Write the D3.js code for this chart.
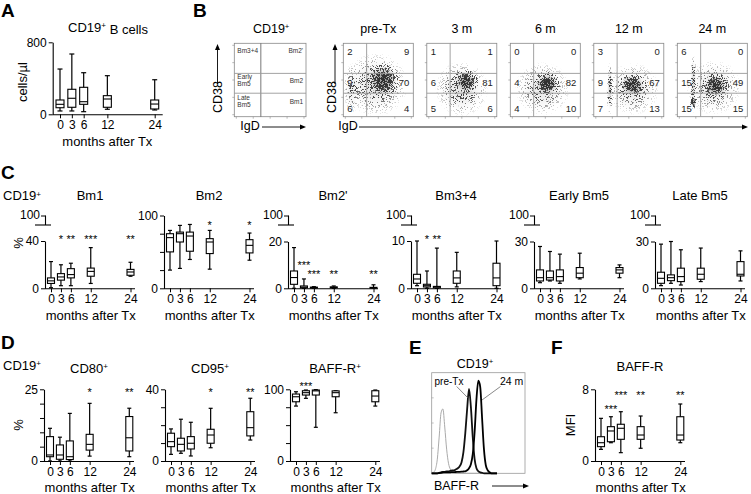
<!DOCTYPE html>
<html><head><meta charset="utf-8">
<script src="https://cdn.jsdelivr.net/npm/d3@7"></script>
<style>
body{margin:0;background:#fff}
svg{display:block}
text{font-family:"Liberation Sans",Arial,Helvetica,sans-serif;fill:#000}
</style>
</head><body>
<script>
// ---------------- DATA ----------------
const months = [0, 3, 6, 12, 24];
const monthLabels = ["0", "3", "6", "12", "24"];
// box stats per time point: [whisker low, Q1, median, Q3, whisker high]
const cd19Counts = [[37,73,111,159,503],[37,78,178,278,670],[29,111,140,300,462],[56,78,170,207,429],[48,59,114,159,384]];
const bm1 = [[0.5,4.1,6.3,8.8,22.6],[2.2,6.9,9.6,12.4,19.9],[2.2,8.8,11.6,16.6,21.2],[4.1,10.2,14.3,17.1,34.4],[10.2,11,13.8,16,22]];
const bm2 = [[25,50,69.6,75,79.5],[27.3,63.6,75,77.2,86.4],[39.6,50.9,71.8,77.2,87.7],[26.3,47.7,63.6,68.2,79.5],[38.6,48.6,59,66.8,75.9]];
const bm2p = [[0,1.7,4.6,7.4,17.4],[0,0.2,0.5,1.0,4.0],[0,0.1,0.3,0.5,0.7],[0,0.2,0.4,0.6,1.0],[0,0.1,0.2,0.4,1.5]];
const bm34 = [[0.55,1.06,1.97,2.96,10],[0,0.28,0.55,0.85,3.66],[0,0.1,0.3,0.4,8.5],[0.3,1.06,2.2,3.66,7.6],[0,0.55,2.2,5.3,10]];
const earlyBm5 = [[3.6,4.7,6.8,11.8,26.8],[4.7,5.3,6.8,11.1,23.6],[3.2,4.7,7.5,11.8,21.9],[6.0,6.8,9.7,13.3,22.5],[6.8,9.7,11.8,13.3,15]];
const lateBm5 = [[1.7,3.2,6.4,10.3,28.3],[3.2,4.9,6.8,8.6,30],[2.1,4.3,7.5,12.9,24.7],[4.3,5.8,9.0,12.9,25.8],[4.7,7.9,9.0,17.1,24]];
const cd80 = [[0,1.5,2.1,8.5,11.4],[0,0.6,2.1,5.6,8.3],[0,0.5,1.5,7.0,16.6],[1.7,3.8,5.8,9.3,20.1],[1.5,3.5,8.1,15.5,18.4]];
const cd95 = [[3.7,8,10.8,15.5,17.9],[4.3,5.6,9.3,12.7,23.3],[2.8,6.7,9.9,13.6,21.6],[7.4,9.9,14.5,17.7,29.4],[11.7,14,18.6,27.5,35]];
const baffrPos = [[76.6,82.6,89.6,93.4,96.6],[87.4,92,95.3,98,99],[47,92,97.8,99,99.5],[67.3,89.6,95.3,97.8,98],[76.6,82.6,90.6,98,99]];
const baffrMfi = [[1.3,1.6,2.04,2.71,4.76],[2.04,2.15,3.35,3.83,4.94],[0.93,2.42,3.65,4.1,5.5],[1.42,2.42,2.9,3.83,5.02],[2.04,2.34,2.9,4.94,6.36]];

// significance marks: [month, label]
const starsBm1 = [[3,"*"],[6,"**"],[12,"***"],[24,"**"]];
const starsBm2 = [[12,"*"],[24,"*"]];
const starsBm2p = [[3,"***"],[6,"***"],[12,"**"],[24,"**"]];
const starsBm34 = [[3,"*"],[6,"**"]];
const starsCd80 = [[12,"*"],[24,"**"]];
const starsCd95 = [[12,"*"],[24,"**"]];
const starsBaffrPos = [[3,"***"]];
const starsMfi = [[3,"***"],[6,"***"],[12,"**"],[24,"**"]];

// flow cytometry quadrants: [top-left, top-right, mid-left, mid-right, bottom-left, bottom-right]
const flowTitles = ["pre-Tx","3 m","6 m","12 m","24 m"];
const flowQuadrants = [[2,9,9,70,6,4],[1,1,6,81,5,6],[0,0,4,82,4,10],[3,0,9,67,7,13],[6,0,15,49,15,15]];
// density clouds: [cx, cy, rx, ry, peak] as fractions of the plot frame
const flowClouds = [
  [[0.57,0.50,0.24,0.24,1.0],[0.47,0.56,0.46,0.44,0.30],[0.12,0.62,0.12,0.36,0.18]],
  [[0.56,0.52,0.18,0.17,1.0],[0.50,0.62,0.38,0.38,0.30]],
  [[0.53,0.55,0.19,0.17,1.0],[0.46,0.62,0.40,0.37,0.26]],
  [[0.55,0.57,0.20,0.17,1.0],[0.56,0.62,0.38,0.36,0.26],[0.23,0.62,0.05,0.36,0.45]],
  [[0.55,0.58,0.19,0.17,1.0],[0.52,0.60,0.40,0.38,0.26],[0.23,0.55,0.05,0.40,0.42],[0.23,0.80,0.06,0.09,0.8]]
];
const gateLabels = [["Bm3+4"],["Bm2'"],["Early","Bm5"],["Bm2"],["Late","Bm5"],["Bm1"]];

// histogram (panel E): channel (0-100) and % of max height
const histCh = [0,2,4,6,8,10,12,14,16,18,20,22,24,26,28,30,32,34,36,38,40,42,44,46,48,50,52,54,56,58,60,62,64,66,68,70];
const histIso = [0,1,4,14,36,60,64,46,24,10,4,1.5,0.5,0,0,0,0,0,0,0,0,0,0,0,0,0,0,0,0,0,0,0,0,0,0,0];
const histPre = [0,0,0,0,0.5,1,1.5,1.5,2,2,2.5,3,3,4,5,7,11,21,40,64,84,66,36,14,5,2,1,0.5,0,0,0,0,0,0,0,0];
const hist24 = [0,0,0,0,0.3,0.5,0.8,1,1,1,1,1.2,1.2,1.3,1.5,1.5,1.6,1.8,2,3,5,9,19,41,74,92,86,55,24,8,3,1,0,0,0,0];

// ---------------- DRAWING ----------------
const W = 751, H = 494;
const svg = d3.select("body").append("svg").attr("width", W).attr("height", H);
const FONT = '"Liberation Sans",Arial,Helvetica,sans-serif';
const defs = svg.append("defs");

function label(x, y, txt, opt = {}) {
  const t = svg.append("text").attr("x", x).attr("y", y).attr("dy", "0.35em")
    .attr("font-size", opt.size || 13).attr("text-anchor", opt.anchor || "middle");
  if (opt.bold) t.attr("font-weight", "bold");
  if (opt.rotate) t.attr("transform", `rotate(-90,${x},${y})`);
  if (opt.fill) t.style("fill", opt.fill);
  if (opt.sup) {
    t.append("tspan").text(txt);
    t.append("tspan").attr("dy", "-0.45em").attr("font-size", (opt.size || 13) * 0.62).text(opt.sup);
    if (opt.rest) t.append("tspan").attr("dy", "0.45em").text(opt.rest);
  } else t.text(txt);
  return t;
}
function panelLetter(x, y, L) { label(x, y, L, { size: 19, bold: true, anchor: "start" }); }

function boxPanel(cfg) {
  const g = svg.append("g");
  const x = d3.scaleLinear().domain([0, 24]).range([cfg.ax + cfg.x0, cfg.ax + cfg.x0 + cfg.xw]);
  const y = d3.scaleLinear().domain([0, cfg.ymax]).range([cfg.yb, cfg.yt]);
  const ya = g.append("g").attr("transform", `translate(${cfg.ax},0)`)
    .call(d3.axisLeft(y).tickValues(cfg.yticks)
      .tickFormat(d => cfg.ylabels.includes(d) ? String(d) : "").tickSize(4).tickPadding(2).tickSizeOuter(0));
  ya.attr("font-family", FONT).attr("font-size", 12);
  ya.selectAll("text").style("fill", "#000");
  ya.select(".domain").attr("stroke-width", 1.1);
  if (cfg.broken) {
    const yt = cfg.brokenTop, yb2 = cfg.brokenTop + 9.5;
    g.append("line").attr("x1", cfg.ax + 0.5).attr("x2", cfg.ax + 0.5).attr("y1", yt).attr("y2", yb2).attr("stroke", "#000").attr("stroke-width", 1.1);
    g.append("line").attr("x1", cfg.ax - 4).attr("x2", cfg.ax + 0.5).attr("y1", yt + 0.5).attr("y2", yt + 0.5).attr("stroke", "#000");
    g.append("line").attr("x1", cfg.ax - 10).attr("x2", cfg.ax + 6).attr("y1", yb2).attr("y2", yb2).attr("stroke", "#000").attr("stroke-width", 1.1);
    g.append("text").attr("x", cfg.ax - 5).attr("y", yt).attr("dy", "0.32em").attr("text-anchor", "end")
      .attr("font-size", 12).text("100");
  }
  const xa = g.append("g").attr("transform", `translate(0,${cfg.yb})`)
    .call(d3.axisBottom(x).tickValues(months).tickFormat((d, i) => monthLabels[i]).tickSize(4).tickPadding(2));
  xa.attr("font-family", FONT).attr("font-size", 12);
  xa.selectAll("text").style("fill", "#000");
  xa.select(".domain").remove();
  g.append("line").attr("x1", cfg.ax).attr("x2", cfg.ax + cfg.xlen).attr("y1", cfg.yb + 0.5).attr("y2", cfg.yb + 0.5)
    .attr("stroke", "#000").attr("stroke-width", 1.1);
  const bw = cfg.bw, cw = cfg.cw;
  const bx = g.selectAll("g.box").data(cfg.stats).join("g").attr("class", "box");
  bx.append("line").attr("x1", (d, i) => x(months[i])).attr("x2", (d, i) => x(months[i]))
    .attr("y1", d => y(d[0])).attr("y2", d => y(d[4])).attr("stroke", "#000").attr("stroke-width", 1.2);
  bx.append("line").attr("x1", (d, i) => x(months[i]) - cw / 2).attr("x2", (d, i) => x(months[i]) + cw / 2)
    .attr("y1", d => y(d[4])).attr("y2", d => y(d[4])).attr("stroke", "#000").attr("stroke-width", 1.2);
  bx.append("line").attr("x1", (d, i) => x(months[i]) - cw / 2).attr("x2", (d, i) => x(months[i]) + cw / 2)
    .attr("y1", d => y(d[0])).attr("y2", d => y(d[0])).attr("stroke", "#000").attr("stroke-width", 1.2);
  bx.append("rect").attr("x", (d, i) => x(months[i]) - bw / 2).attr("width", bw)
    .attr("y", d => y(d[3])).attr("height", d => Math.max(0.8, y(d[1]) - y(d[3])))
    .attr("fill", "#fff").attr("stroke", "#000").attr("stroke-width", 1.1);
  bx.append("line").attr("x1", (d, i) => x(months[i]) - bw / 2).attr("x2", (d, i) => x(months[i]) + bw / 2)
    .attr("y1", d => y(d[2])).attr("y2", d => y(d[2])).attr("stroke", "#000").attr("stroke-width", 1.1);
  if (cfg.stars) {
    cfg.stars.forEach((s, k) => {
      const sy = Array.isArray(cfg.starY) ? cfg.starY[k] : cfg.starY;
      g.append("text").attr("x", x(s[0])).attr("y", sy + 6.3).attr("text-anchor", "middle")
        .attr("font-size", 11).style("fill", "#000").text(s[1]);
    });
  }
  if (cfg.title) label(cfg.ax + 45, cfg.titleY, cfg.title, { size: 13, sup: cfg.titleSup });
  label(cfg.ax + cfg.x0 + cfg.xw / 2, cfg.yb + 26.7, "months after Tx", { size: 13 });
}

// ---------- Panel A ----------
panelLetter(1, 10, "A");
label(108, 27, "CD19", { size: 13, sup: "+", rest: " B cells" });
label(22, 82, "cells/µl", { size: 13, rotate: true });
boxPanel({ ax: 52.7, x0: 7.3, xw: 94.7, xlen: 110, yb: 114.3, yt: 42.3, ymax: 800,
  yticks: [0, 800], ylabels: [0, 800], stats: cd19Counts, bw: 8, cw: 5 });

// ---------- Panel B ----------
panelLetter(193, 10, "B");
function arrowV(x, y1, y2) {
  svg.append("line").attr("x1", x).attr("x2", x).attr("y1", y1).attr("y2", y2 + 4).attr("stroke", "#000").attr("stroke-width", 0.9);
  svg.append("path").attr("d", `M${x - 2.5},${y2 + 6}L${x},${y2}L${x + 2.5},${y2 + 6}Z`).attr("fill", "#000");
}
function arrowH(x1, x2, y) {
  svg.append("line").attr("x1", x1).attr("x2", x2 - 4).attr("y1", y).attr("y2", y).attr("stroke", "#000").attr("stroke-width", 0.9);
  svg.append("path").attr("d", `M${x2 - 6},${y - 2.5}L${x2},${y}L${x2 - 6},${y + 2.5}Z`).attr("fill", "#000");
}
function frameTicks(L, T, w, h) {
  const fx = d3.scaleLinear().domain([0, 4]).range([L + 2, L + w - 2]);
  const fy = d3.scaleLinear().domain([0, 4]).range([T + h - 2, T + 2]);
  d3.range(5).forEach(i => {
    svg.append("line").attr("x1", fx(i)).attr("x2", fx(i)).attr("y1", T + h).attr("y2", T + h + 2).attr("stroke", "#888").attr("stroke-width", 0.6);
    svg.append("line").attr("x1", L - 2).attr("x2", L).attr("y1", fy(i)).attr("y2", fy(i)).attr("stroke", "#888").attr("stroke-width", 0.6);
  });
}
const FT = 43.3, FH = 73.4, FW = 70;
{
  const L = 234.3, w = 71.7;
  label(L + w / 2 + 1, 28.3, "CD19", { size: 12.5, sup: "+" });
  svg.append("rect").attr("x", L).attr("y", FT).attr("width", w).attr("height", FH).attr("fill", "none").attr("stroke", "#888").attr("stroke-width", 0.8);
  const vx = L + w * 0.37;
  svg.append("line").attr("x1", vx).attr("x2", vx).attr("y1", FT).attr("y2", FT + FH).attr("stroke", "#555").attr("stroke-width", 0.8);
  [0.41, 0.68].forEach(f => svg.append("line").attr("x1", L).attr("x2", L + w).attr("y1", FT + FH * f).attr("y2", FT + FH * f).attr("stroke", "#999").attr("stroke-width", 0.9));
  frameTicks(L, FT, w, FH);
  const rows = [FT + 7.5, FT + 37, FT + 58];
  gateLabels.forEach((lines, k) => {
    const r = Math.floor(k / 2), right = k % 2 === 1;
    lines.forEach((ln, j) => {
      const yy = rows[r] + (lines.length > 1 ? (j - 0.5) * 7.4 : 0);
      svg.append("text").attr("x", right ? L + w - 3 : L + 3).attr("y", yy).attr("dy", "0.35em")
        .attr("text-anchor", right ? "end" : "start").attr("font-size", 6.5).style("fill", "#333").text(ln);
    });
  });
  arrowV(217.5, 84, 44);
  label(217.5, 97, "CD38", { size: 12.5, rotate: true });
  label(250, 125.5, "IgD", { size: 12.5 });
  arrowH(262, 306, 127);
}
const cloudGrad = defs.append("radialGradient").attr("id", "cloudGrad");
cloudGrad.append("stop").attr("offset", "0%").attr("stop-color", "#000").attr("stop-opacity", 1);
cloudGrad.append("stop").attr("offset", "35%").attr("stop-color", "#000").attr("stop-opacity", 0.8);
cloudGrad.append("stop").attr("offset", "70%").attr("stop-color", "#000").attr("stop-opacity", 0.3);
cloudGrad.append("stop").attr("offset", "100%").attr("stop-color", "#000").attr("stop-opacity", 0);
const grain = defs.append("filter").attr("id", "grain").attr("filterUnits", "userSpaceOnUse")
  .attr("x", 330).attr("y", 38).attr("width", 421).attr("height", 84).attr("color-interpolation-filters", "sRGB");
grain.append("feTurbulence").attr("type", "fractalNoise").attr("baseFrequency", 2.2).attr("numOctaves", 2).attr("seed", 5).attr("result", "t");
grain.append("feColorMatrix").attr("in", "t").attr("type", "matrix")
  .attr("values", "0 0 0 0 0  0 0 0 0 0  0 0 0 0 0  4 0 0 0 -1.5").attr("result", "n");
grain.append("feComposite").attr("in", "SourceGraphic").attr("in2", "n").attr("operator", "arithmetic")
  .attr("k1", 0).attr("k2", 5).attr("k3", -5).attr("k4", 0);

const flowX = d3.scaleLinear().domain([0, 4]).range([343.3, 343.3 + 4 * 83.5]);
flowTitles.forEach((t, i) => {
  const L = flowX(i);
  label(L + FW / 2, 28.3, t, { size: 12.5 });
  const cp = defs.append("clipPath").attr("id", "fc" + i);
  cp.append("rect").attr("x", L).attr("y", FT).attr("width", FW).attr("height", FH);
  const clipG = svg.append("g").attr("clip-path", `url(#fc${i})`);
  // soft underlay for the dense core
  flowClouds[i].forEach(c => {
    clipG.append("ellipse").attr("cx", L + c[0] * FW).attr("cy", FT + c[1] * FH).attr("rx", c[2] * FW * 0.8).attr("ry", c[3] * FH * 0.8)
      .attr("fill", "url(#cloudGrad)").attr("fill-opacity", c[4] * 0.35);
  });
  const cg = clipG.append("g").attr("filter", "url(#grain)").attr("opacity", 0.7);
  flowClouds[i].forEach(c => {
    cg.append("ellipse").attr("cx", L + c[0] * FW).attr("cy", FT + c[1] * FH).attr("rx", c[2] * FW).attr("ry", c[3] * FH)
      .attr("fill", "url(#cloudGrad)").attr("fill-opacity", c[4]);
  });
  svg.append("rect").attr("x", L).attr("y", FT).attr("width", FW).attr("height", FH).attr("fill", "none").attr("stroke", "#888").attr("stroke-width", 0.8);
  const vx = L + FW / 3;
  svg.append("line").attr("x1", vx).attr("x2", vx).attr("y1", FT).attr("y2", FT + FH).attr("stroke", "#999").attr("stroke-width", 0.9);
  [0.41, 0.68].forEach(f => svg.append("line").attr("x1", L).attr("x2", L + FW).attr("y1", FT + FH * f).attr("y2", FT + FH * f).attr("stroke", "#999").attr("stroke-width", 0.9));
  frameTicks(L, FT, FW, FH);
  const rowsY = [FT + 8.5, FT + 39.4, FT + 65];
  flowQuadrants[i].forEach((v, k) => {
    const r = Math.floor(k / 2), right = k % 2 === 1;
    svg.append("text").attr("x", right ? L + FW - 4 : L + 4).attr("y", rowsY[r]).attr("dy", "0.35em")
      .attr("text-anchor", right ? "end" : "start").attr("font-size", 9.5).style("fill", "#222").text(v);
  });
});
arrowV(335, 84, 44);
label(332, 97, "CD38", { size: 12.5, rotate: true });
label(348, 125.5, "IgD", { size: 12.5 });
arrowH(359, 748, 127);

// ---------- Panel C ----------
panelLetter(1, 172, "C");
label(3, 195.7, "CD19", { size: 13, anchor: "start", sup: "+" });
label(18.3, 243, "%", { size: 13, rotate: true });
const cAx = [45, 164, 288, 411, 534, 655];
const cBase = { x0: 6, xw: 79.5, xlen: 90, yb: 288.3, bw: 7, cw: 4, titleY: 195.7 };
boxPanel(Object.assign({}, cBase, { ax: cAx[0], title: "Bm1", broken: true, brokenTop: 215.5, yt: 241, ymax: 40,
  yticks: [0, 40], ylabels: [0, 40], stats: bm1, stars: starsBm1, starY: 237 }));
boxPanel(Object.assign({}, cBase, { ax: cAx[1], title: "Bm2", yt: 215.5, ymax: 100,
  yticks: [0, 25, 50, 75, 100], ylabels: [0, 100], stats: bm2, stars: starsBm2, starY: 223 }));
boxPanel(Object.assign({}, cBase, { ax: cAx[2], title: "Bm2'", broken: true, brokenTop: 215.5, yt: 241.5, ymax: 20,
  yticks: [0, 20], ylabels: [0, 20], stats: bm2p, stars: starsBm2p, starY: [262.7, 271.7, 271.7, 271.7] }));
boxPanel(Object.assign({}, cBase, { ax: cAx[3], title: "Bm3+4", broken: true, brokenTop: 215.5, yt: 241, ymax: 10,
  yticks: [0, 10], ylabels: [0, 10], stats: bm34, stars: starsBm34, starY: 237 }));
boxPanel(Object.assign({}, cBase, { ax: cAx[4], title: "Early Bm5", broken: true, brokenTop: 215.5, yt: 241.5, ymax: 30,
  yticks: [0, 30], ylabels: [0, 30], stats: earlyBm5 }));
boxPanel(Object.assign({}, cBase, { ax: cAx[5], title: "Late Bm5", broken: true, brokenTop: 215.5, yt: 241.5, ymax: 30,
  yticks: [0, 30], ylabels: [0, 30], stats: lateBm5 }));

// ---------- Panel D ----------
panelLetter(1, 342, "D");
label(3, 365, "CD19", { size: 13, anchor: "start", sup: "+" });
label(18.3, 425, "%", { size: 13, rotate: true });
const dBase = { x0: 6, xw: 79.3, xlen: 90, yb: 461, yt: 389.3, bw: 7, cw: 4, titleY: 368 };
boxPanel(Object.assign({}, dBase, { ax: 44, title: "CD80", titleSup: "+", ymax: 25,
  yticks: [0, 5, 10, 15, 20, 25], ylabels: [0, 25], stats: cd80, stars: starsCd80, starY: 390 }));
boxPanel(Object.assign({}, dBase, { ax: 165, title: "CD95", titleSup: "+", ymax: 40,
  yticks: [0, 10, 20, 30, 40], ylabels: [0, 40], stats: cd95, stars: starsCd95, starY: 390 }));
boxPanel(Object.assign({}, dBase, { ax: 290, title: "BAFF-R", titleSup: "+", ymax: 100,
  yticks: [0, 25, 50, 75, 100], ylabels: [0, 100], stats: baffrPos, stars: starsBaffrPos, starY: 383.3 }));

// ---------- Panel E ----------
panelLetter(409, 347, "E");
label(475, 363.3, "CD19", { size: 12.5, sup: "+" });
{
  const L = 431.7, R = 525, T = 372.7, B = 473.3;
  const hx = d3.scaleLinear().domain([0, 100]).range([L, R]);
  const hy = d3.scaleLinear().domain([0, 100]).range([B, T]);
  svg.append("rect").attr("x", L).attr("y", T).attr("width", R - L).attr("height", B - T).attr("fill", "none").attr("stroke", "#999").attr("stroke-width", 0.8);
  [25, 50, 75].forEach(v => svg.append("line").attr("x1", L).attr("x2", L + 2).attr("y1", hy(v)).attr("y2", hy(v)).attr("stroke", "#999").attr("stroke-width", 0.6));
  const line = d3.line().x((d, i) => hx(histCh[i])).y(d => hy(d)).curve(d3.curveMonotoneX);
  svg.append("path").attr("d", line(histIso)).attr("fill", "none").attr("stroke", "#aaa").attr("stroke-width", 1);
  svg.append("path").attr("d", line(histPre)).attr("fill", "none").attr("stroke", "#111").attr("stroke-width", 1.8);
  svg.append("path").attr("d", line(hist24)).attr("fill", "none").attr("stroke", "#000").attr("stroke-width", 1.8);
  svg.append("text").attr("x", 434.5).attr("y", 381.7).attr("dy", "0.35em").attr("font-size", 10).text("pre-Tx");
  svg.append("text").attr("x", 500).attr("y", 381.7).attr("dy", "0.35em").attr("font-size", 10.5).text("24 m");
  svg.append("line").attr("x1", 456.7).attr("y1", 386.5).attr("x2", 468.3).attr("y2", 398.3).attr("stroke", "#555").attr("stroke-width", 0.7);
  svg.append("line").attr("x1", 500.5).attr("y1", 386.5).attr("x2", 482).attr("y2", 400).attr("stroke", "#555").attr("stroke-width", 0.7);
  label(456.5, 485.7, "BAFF-R", { size: 12.5 });
  arrowH(492, 529, 486);
}

// ---------- Panel F ----------
panelLetter(551, 347, "F");
label(570, 425, "MFI", { size: 13, rotate: true });
boxPanel(Object.assign({}, dBase, { ax: 595, title: "BAFF-R", titleY: 366.7, ymax: 8,
  yticks: [0, 8], ylabels: [0, 8], stats: baffrMfi, stars: starsMfi, starY: [406.7, 392.7, 392.7, 392.7] }));
</script>
</body></html>
